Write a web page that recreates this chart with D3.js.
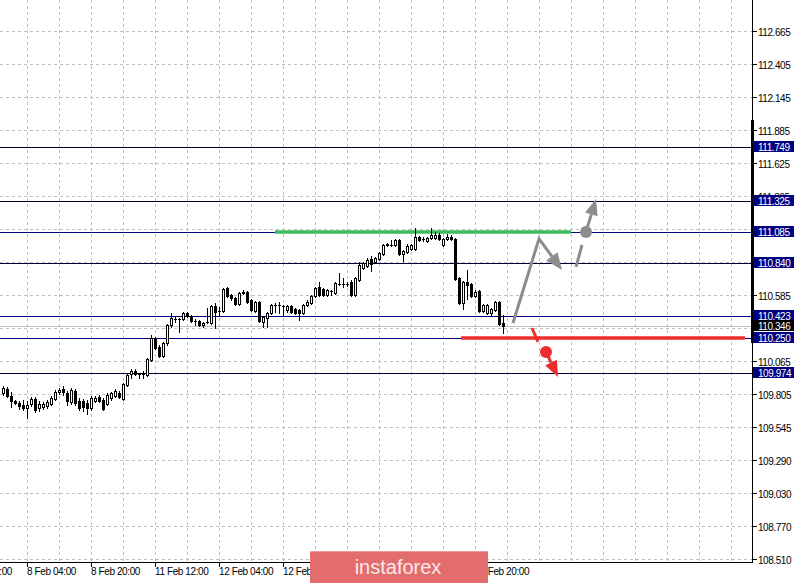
<!DOCTYPE html>
<html><head><meta charset="utf-8">
<script src="https://cdn.jsdelivr.net/npm/d3@7"></script>
<style>
html,body{margin:0;padding:0;background:#fff;}
svg{display:block;}
text{font-family:"Liberation Sans",Arial,sans-serif;}
</style></head>
<body>
<svg id="c" width="798" height="583"></svg>
<script>
// ---------- DATA ----------
const opens = [109.816,109.848,109.793,109.753,109.738,109.722,109.698,109.730,109.769,109.698,109.706,109.714,109.730,109.769,109.824,109.848,109.816,109.745,109.832,109.753,109.753,109.738,109.698,109.753,109.785,109.761,109.730,109.777,109.793,109.816,
109.769,109.879,109.966,109.990,109.966,109.966,109.958,110.076,110.249,110.178,110.107,110.210,110.352,110.399,110.399,110.399,110.446,110.422,110.383,110.383,110.352,110.375,110.367,110.501,110.462,110.462,110.643,110.588,110.564,110.517,
110.603,110.611,110.548,110.462,110.533,110.375,110.407,110.446,110.509,110.509,110.501,110.470,110.501,110.477,110.470,110.446,110.509,110.525,110.580,110.651,110.635,110.588,110.619,110.603,110.674,110.674,110.674,110.690,110.588,110.706,
110.800,110.816,110.871,110.847,110.871,110.910,110.981,110.981,110.981,111.020,110.910,110.926,110.950,110.950,111.044,111.028,111.013,111.036,111.036,111.060,110.981,111.028,111.044,111.028,110.721,110.525,110.690,110.674,110.580,110.619,
110.462,110.446,110.446,110.470,110.533,110.367];
const highs = [109.871,109.864,109.824,109.761,109.753,109.761,109.753,109.785,109.785,109.753,109.745,109.761,109.793,109.840,109.856,109.871,109.832,109.856,109.848,109.777,109.769,109.761,109.793,109.793,109.801,109.777,109.816,109.824,109.848,109.832,
109.895,109.966,110.005,110.005,109.974,109.990,110.092,110.273,110.257,110.194,110.218,110.359,110.446,110.415,110.407,110.454,110.454,110.430,110.399,110.391,110.375,110.485,110.509,110.525,110.493,110.643,110.651,110.596,110.572,110.611,
110.627,110.619,110.556,110.540,110.540,110.422,110.454,110.517,110.525,110.533,110.509,110.509,110.509,110.485,110.477,110.517,110.548,110.588,110.651,110.690,110.643,110.635,110.627,110.690,110.761,110.721,110.690,110.706,110.729,110.847,
110.847,110.879,110.895,110.887,110.926,110.989,110.997,111.020,111.028,111.028,110.942,110.989,110.989,111.115,111.052,111.044,111.044,111.115,111.083,111.075,111.036,111.068,111.060,111.036,110.729,110.698,110.784,110.682,110.627,110.627,
110.517,110.517,110.485,110.540,110.540,110.430];
const lows = [109.801,109.785,109.706,109.730,109.690,109.682,109.620,109.714,109.667,109.675,109.690,109.698,109.722,109.761,109.808,109.801,109.722,109.730,109.722,109.682,109.675,109.651,109.682,109.745,109.745,109.682,109.722,109.761,109.785,109.777,
109.761,109.871,109.934,109.958,109.934,109.934,109.950,110.068,110.163,110.100,110.100,110.194,110.336,110.375,110.296,110.391,110.415,110.375,110.352,110.344,110.336,110.367,110.359,110.328,110.422,110.454,110.572,110.548,110.509,110.509,
110.596,110.525,110.462,110.454,110.375,110.336,110.336,110.438,110.454,110.446,110.430,110.454,110.446,110.438,110.391,110.438,110.501,110.517,110.572,110.580,110.580,110.580,110.588,110.596,110.666,110.651,110.658,110.580,110.580,110.698,
110.792,110.808,110.777,110.839,110.863,110.903,110.973,110.973,110.973,110.903,110.855,110.918,110.942,110.942,111.013,111.013,111.005,111.028,111.028,111.020,110.973,111.020,111.020,110.706,110.517,110.477,110.556,110.572,110.572,110.454,
110.454,110.438,110.422,110.462,110.352,110.288];
const closes = [109.856,109.793,109.753,109.738,109.714,109.698,109.722,109.769,109.682,109.730,109.730,109.745,109.777,109.824,109.840,109.824,109.753,109.840,109.738,109.698,109.706,109.698,109.777,109.777,109.753,109.690,109.801,109.816,109.832,109.785,
109.887,109.958,109.990,109.966,109.963,109.974,110.084,110.249,110.170,110.107,110.210,110.352,110.407,110.397,110.401,110.446,110.422,110.383,110.381,110.352,110.367,110.373,110.501,110.454,110.460,110.635,110.580,110.564,110.517,110.603,
110.611,110.533,110.470,110.533,110.383,110.415,110.446,110.509,110.507,110.511,110.499,110.501,110.454,110.446,110.446,110.509,110.533,110.580,110.643,110.588,110.588,110.627,110.617,110.682,110.672,110.676,110.672,110.588,110.721,110.824,
110.839,110.863,110.832,110.879,110.918,110.981,110.989,110.983,111.020,110.910,110.934,110.973,110.981,111.044,111.020,111.026,111.036,111.060,111.060,111.028,111.028,111.044,111.028,110.714,110.525,110.690,110.666,110.580,110.611,110.462,
110.509,110.509,110.477,110.533,110.359,110.346];

const priceTicks = [112.665,112.405,112.145,111.885,111.625,111.365,111.105,110.845,110.585,110.325,110.065,109.805,109.545,109.290,109.030,108.770,108.510];
const priceTickLabels = ["112.665","112.405","112.145","111.885","111.625","111.365","111.105","110.845","110.585","110.325","110.065","109.805","109.545","109.290","109.030","108.770","108.510"];
const timeTickBars = [-10,6,22,38,54,70,86,102,118];
const timeTickLabels = ["7 Feb 12:00","8 Feb 04:00","8 Feb 20:00","11 Feb 12:00","12 Feb 04:00","12 Feb 20:00","13 Feb 12:00","14 Feb 04:00","14 Feb 20:00"];

const levelValues = [111.749,111.325,111.085,110.840,110.423,110.250,109.974];
const levelLabels = ["111.749","111.325","111.085","110.840","110.423","110.250","109.974"];
const levelLineColors = ["#000033","#000033","#000080","#000033","#000080","#000080","#000033"];
const bidValue = 110.346;
const bidLabel = "110.346";

const greenLevel = {from:68, to:142, price:111.085};
const redLevel = {from:114.5, to:185.5, price:110.250};
const grayArrow1 = [[127.5,110.367],[134,111.030],[139.75,110.784]];
const graySeg = [[143.25,110.808],[144.75,110.981]];
const grayDot = [145.75,111.083];
const grayArrow2 = [[145.75,111.083],[148.25,111.343]];
const redSeg = [[132.25,110.328],[133.75,110.218]];
const redDot = [135.75,110.139];
const redArrow = [[135.75,110.139],[138.75,109.942]];

// ---------- CHART ----------
const W = 798, H = 583;
const plotRight = 752, plotBottom = 562;
const svg = d3.select("#c");
const y = d3.scaleLinear().domain([108.510, 112.665]).range([559, 31]);
const x = d3.scaleLinear().domain([0, 1]).range([3, 7]);
const cy = v => Math.round(y(v)) + 0.5;

const plot = svg.append("g");
plot.append("defs").append("clipPath").attr("id","pc").append("rect")
  .attr("x",0).attr("y",0).attr("width",plotRight).attr("height",plotBottom);
const g = plot.append("g").attr("clip-path","url(#pc)");

// grid
const vgrid = d3.range(-10, 190, 8);
g.selectAll(".vg").data(vgrid).join("line")
  .attr("x1", d => Math.round(x(d)) + 0.5).attr("x2", d => Math.round(x(d)) + 0.5)
  .attr("y1", 0).attr("y2", plotBottom)
  .attr("stroke", "#c0c0c0").attr("stroke-dasharray", "3,3");
g.selectAll(".hg").data(priceTicks).join("line")
  .attr("x1", 0).attr("x2", plotRight)
  .attr("y1", d => cy(d)).attr("y2", d => cy(d))
  .attr("stroke", "#c0c0c0").attr("stroke-dasharray", "3,3");

// bid line
g.append("line").attr("x1",0).attr("x2",plotRight).attr("y1",cy(bidValue)).attr("y2",cy(bidValue))
  .attr("stroke","#c0c0c0").attr("stroke-width",1);

// level lines
g.selectAll(".lv").data(levelValues).join("line")
  .attr("x1",0).attr("x2",plotRight)
  .attr("y1", d => cy(d)).attr("y2", d => cy(d))
  .attr("stroke", (d,i) => levelLineColors[i]).attr("stroke-width",1);

// green & red lines
g.append("line").attr("x1", x(greenLevel.from)).attr("x2", x(greenLevel.to))
  .attr("y1", Math.round(y(greenLevel.price))).attr("y2", Math.round(y(greenLevel.price)))
  .attr("stroke","#3dbb5a").attr("stroke-width",3.5);
g.append("line").attr("x1", x(redLevel.from)).attr("x2", x(redLevel.to))
  .attr("y1", Math.round(y(redLevel.price))).attr("y2", Math.round(y(redLevel.price)))
  .attr("stroke","#ee2d2d").attr("stroke-width",3.5);

// candles
const candles = opens.map((o,i) => ({i, o, h: highs[i], l: lows[i], c: closes[i]}));
const cg = g.append("g");
candles.forEach(d => {
  const cx = Math.round(x(d.i));
  cg.append("line").attr("x1", cx+0.5).attr("x2", cx+0.5)
    .attr("y1", Math.round(y(d.h))).attr("y2", Math.round(y(d.l))+1)
    .attr("stroke","#000").attr("stroke-width",1);
  const top = Math.round(y(Math.max(d.o,d.c)));
  const bot = Math.round(y(Math.min(d.o,d.c)));
  const bull = d.c >= d.o;
  if (bot - top < 1) {
    cg.append("line").attr("x1", cx-1).attr("x2", cx+2)
      .attr("y1", top+0.5).attr("y2", top+0.5).attr("stroke","#000");
  } else {
    cg.append("rect").attr("x", cx-0.5).attr("y", top+0.5)
      .attr("width", 2).attr("height", bot-top)
      .attr("fill", bull ? "#fff" : "#000").attr("stroke","#000").attr("stroke-width",1);
  }
});

// arrows
function P(p){ return [x(p[0]), y(p[1])]; }
function drawArrow(pts, color, headLen, headW, lw) {
  const ps = pts.map(P);
  const n = ps.length;
  const tip = ps[n-1], prev = ps[n-2];
  let dx = tip[0]-prev[0], dy = tip[1]-prev[1];
  const L = Math.hypot(dx,dy); dx/=L; dy/=L;
  const base = [tip[0]-dx*headLen, tip[1]-dy*headLen];
  const linePts = ps.slice(0,n-1).concat([base]);
  g.append("path").attr("d", d3.line()(linePts)).attr("fill","none")
    .attr("stroke",color).attr("stroke-width",lw).attr("stroke-linejoin","miter");
  const px = -dy, py = dx;
  g.append("path").attr("d", d3.line()([tip,[base[0]+px*headW/2, base[1]+py*headW/2],[base[0]-px*headW/2, base[1]-py*headW/2]]) + "Z")
    .attr("fill",color);
}
const grayC = "#8c8c8c", redC = "#ee2d2d";
drawArrow(grayArrow1, grayC, 17, 14, 3);
g.append("path").attr("d", d3.line()(graySeg.map(P))).attr("stroke",grayC).attr("stroke-width",3).attr("fill","none");
g.append("circle").attr("cx", P(grayDot)[0]).attr("cy", P(grayDot)[1]).attr("r",6).attr("fill",grayC);
drawArrow(grayArrow2, grayC, 16, 13, 3);
g.append("path").attr("d", d3.line()(redSeg.map(P))).attr("stroke",redC).attr("stroke-width",3).attr("fill","none");
g.append("circle").attr("cx", P(redDot)[0]).attr("cy", P(redDot)[1]).attr("r",6).attr("fill",redC);
drawArrow(redArrow, redC, 16, 13, 3);

// axes frame
svg.append("line").attr("x1",plotRight+0.5).attr("x2",plotRight+0.5).attr("y1",0).attr("y2",plotBottom+1).attr("stroke","#000");
svg.append("line").attr("x1",0).attr("x2",plotRight+1).attr("y1",plotBottom+0.5).attr("y2",plotBottom+0.5).attr("stroke","#000");
svg.append("rect").attr("x",plotRight-1).attr("y",120).attr("width",3).attr("height",223).attr("fill","#000");

// right axis ticks and labels (labels fully covered by a level box are not drawn, as in the reference)
const boxValues = levelValues.concat([bidValue]);
const visiblePriceTicks = priceTicks.map((v,i) => ({v, t: priceTickLabels[i]}))
  .filter(d => !boxValues.some(b => Math.abs(y(b) - y(d.v)) < 3.5 || (d.v < 110.4 && d.v > 110.2)));
svg.selectAll(".rt").data(priceTicks).join("line")
  .attr("x1",plotRight+1).attr("x2",plotRight+5)
  .attr("y1", d => cy(d)).attr("y2", d => cy(d)).attr("stroke","#000");
svg.selectAll(".rl").data(visiblePriceTicks).join("text")
  .attr("x", 758).attr("y", d => Math.round(y(d.v)) + 4.5)
  .attr("font-size", 10).attr("letter-spacing", -0.45).attr("fill","#000")
  .text(d => d.t);

// level label boxes
const lb = svg.append("g");
levelValues.forEach((v,i) => {
  const ly = Math.round(y(v));
  lb.append("rect").attr("x",753).attr("y",ly-6).attr("width",41).attr("height",11).attr("fill","#000080");
  lb.append("text").attr("x",758).attr("y",ly+4).attr("font-size",10).attr("letter-spacing",-0.45)
    .attr("fill","#fff").text(levelLabels[i]);
});
{
  const ly = Math.round(y(bidValue));
  lb.append("rect").attr("x",753).attr("y",ly-6).attr("width",41).attr("height",11).attr("fill","#000");
  lb.append("text").attr("x",758).attr("y",ly+4).attr("font-size",10).attr("letter-spacing",-0.45)
    .attr("fill","#fff").text(bidLabel);
}

// bottom axis (labels fully under the watermark are not drawn, as in the reference)
const wmLeft = 310, wmRight = 488;
const visibleTime = timeTickBars.map((b,i) => ({b, t: timeTickLabels[i]}))
  .filter(d => !(x(d.b) >= wmLeft && x(d.b) + 50 <= wmRight + 2));
svg.selectAll(".bt").data(timeTickBars).join("line")
  .attr("x1", d => Math.round(x(d))+0.5).attr("x2", d => Math.round(x(d))+0.5)
  .attr("y1", plotBottom+1).attr("y2", plotBottom+5).attr("stroke","#000");
svg.selectAll(".bl").data(visibleTime).join("text")
  .attr("x", d => Math.round(x(d.b))).attr("y", 575)
  .attr("font-size", 10).attr("letter-spacing", -0.4).attr("fill","#000")
  .text(d => d.t);

// watermark
const wm = svg.append("g");
wm.append("rect").attr("x",wmLeft).attr("y",551).attr("width",wmRight-wmLeft).attr("height",34).attr("fill","#e36c6c");
wm.append("rect").attr("x",wmLeft).attr("y",551).attr("width",wmRight-wmLeft).attr("height",1).attr("fill","#ee9a9a");
wm.append("text").attr("x",398).attr("y",574).attr("text-anchor","middle")
  .attr("font-size",20).attr("fill","#fbe9e9").text("instaforex");
</script>
</body></html>
